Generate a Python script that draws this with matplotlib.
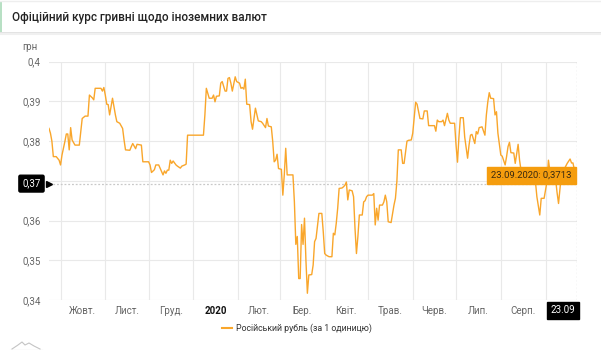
import numpy as np
import matplotlib
matplotlib.use("Agg")
import matplotlib.pyplot as plt
from matplotlib.patches import Rectangle
from matplotlib.lines import Line2D
from matplotlib.transforms import Affine2D, blended_transform_factory
import matplotlib.dates as mdates

plt.rcParams['font.family'] = ['Roboto', 'DejaVu Sans']

# --- data -------------------------------------------------------------
start_date = np.datetime64('2019-09-23')
end_date = np.datetime64('2020-09-23')

day_offsets = [
    0, 1, 2, 3, 5, 7, 8, 9, 11, 12, 13, 14, 15, 16, 18, 21, 23, 25, 27, 28,
    30, 31, 32, 36, 37, 38, 39, 40, 41, 42, 44, 46, 47, 49, 51, 52, 53, 56, 57, 58,
    60, 61, 64, 65, 69, 70, 71, 73, 74, 76, 78, 79, 80, 81, 82, 83, 84, 85, 86, 88,
    89, 91, 92, 94, 95, 96, 107, 108, 109, 111, 113, 114, 115, 116, 118, 119, 120, 122, 123, 124,
    125, 126, 127, 129, 130, 132, 133, 134, 135, 136, 137, 139, 140, 141, 143, 145, 147, 148, 150, 151,
    152, 154, 155, 156, 157, 158, 159, 161, 162, 163, 164, 165, 169, 170, 171, 172, 173, 174, 175, 176,
    177, 178, 179, 180, 182, 183, 184, 185, 187, 189, 190, 191, 192, 194, 196, 197, 198, 199, 200, 201,
    203, 204, 205, 206, 207, 208, 210, 211, 212, 213, 214, 215, 217, 218, 219, 220, 221, 224, 225, 226,
    227, 228, 229, 231, 232, 233, 234, 235, 237, 239, 240, 241, 242, 244, 245, 246, 248, 249, 251, 252,
    253, 254, 255, 257, 259, 260, 262, 263, 267, 268, 269, 270, 272, 273, 274, 276, 277, 278, 281, 282,
    283, 284, 285, 287, 288, 290, 291, 292, 293, 295, 296, 297, 298, 300, 302, 303, 304, 305, 306, 308,
    309, 310, 311, 313, 314, 316, 317, 318, 319, 320, 322, 323, 325, 326, 327, 330, 333, 335, 336, 337,
    338, 340, 341, 343, 345, 346, 347, 348, 350, 351, 352, 353, 354, 355, 357, 359, 361, 362, 363, 364,
    365, 366,
]

rub_rate = [
    0.3832, 0.3820, 0.3800, 0.3761, 0.3761, 0.3752, 0.3740, 0.3765, 0.3799, 0.3818,
    0.3818, 0.3778, 0.3834, 0.3803, 0.3790, 0.3790, 0.3857, 0.3863, 0.3863, 0.3916,
    0.3909, 0.3904, 0.3933, 0.3933, 0.3926, 0.3935, 0.3916, 0.3893, 0.3892, 0.3866,
    0.3908, 0.3866, 0.3849, 0.3845, 0.3832, 0.3803, 0.3778, 0.3777, 0.3786, 0.3794,
    0.3781, 0.3792, 0.3790, 0.3748, 0.3748, 0.3740, 0.3721, 0.3728, 0.3740, 0.3740,
    0.3723, 0.3715, 0.3725, 0.3719, 0.3727, 0.3727, 0.3752, 0.3744, 0.3750, 0.3740,
    0.3737, 0.3732, 0.3737, 0.3740, 0.3742, 0.3815, 0.3815, 0.3866, 0.3933, 0.3908,
    0.3908, 0.3916, 0.3899, 0.3913, 0.3914, 0.3946, 0.3950, 0.3926, 0.3926, 0.3958,
    0.3960, 0.3946, 0.3926, 0.3962, 0.3950, 0.3946, 0.3933, 0.3935, 0.3931, 0.3956,
    0.3893, 0.3892, 0.3849, 0.3830, 0.3883, 0.3851, 0.3849, 0.3845, 0.3834, 0.3857,
    0.3838, 0.3836, 0.3799, 0.3748, 0.3752, 0.3767, 0.3731, 0.3729, 0.3664, 0.3715,
    0.3782, 0.3715, 0.3715, 0.3647, 0.3540, 0.3560, 0.3454, 0.3454, 0.3590, 0.3540,
    0.3606, 0.3500, 0.3417, 0.3463, 0.3464, 0.3488, 0.3547, 0.3555, 0.3618, 0.3618,
    0.3572, 0.3517, 0.3513, 0.3509, 0.3509, 0.3568, 0.3564, 0.3593, 0.3631, 0.3681,
    0.3682, 0.3685, 0.3689, 0.3697, 0.3652, 0.3677, 0.3675, 0.3660, 0.3580, 0.3517,
    0.3560, 0.3614, 0.3614, 0.3647, 0.3650, 0.3660, 0.3664, 0.3664, 0.3668, 0.3589,
    0.3631, 0.3601, 0.3639, 0.3639, 0.3647, 0.3664, 0.3647, 0.3597, 0.3595, 0.3639,
    0.3656, 0.3698, 0.3778, 0.3778, 0.3744, 0.3744, 0.3800, 0.3802, 0.3803, 0.3820,
    0.3860, 0.3898, 0.3893, 0.3857, 0.3856, 0.3876, 0.3876, 0.3839, 0.3839, 0.3825,
    0.3853, 0.3849, 0.3849, 0.3853, 0.3839, 0.3870, 0.3853, 0.3845, 0.3845, 0.3790,
    0.3747, 0.3810, 0.3859, 0.3859, 0.3810, 0.3757, 0.3790, 0.3815, 0.3817, 0.3794,
    0.3824, 0.3818, 0.3834, 0.3836, 0.3815, 0.3866, 0.3899, 0.3922, 0.3908, 0.3907,
    0.3866, 0.3874, 0.3820, 0.3765, 0.3762, 0.3740, 0.3761, 0.3786, 0.3797, 0.3771,
    0.3770, 0.3744, 0.3792, 0.3752, 0.3727, 0.3720, 0.3712, 0.3705, 0.3698, 0.3698,
    0.3660, 0.3614, 0.3656, 0.3656, 0.3698, 0.3752, 0.3725, 0.3698, 0.3696, 0.3703,
    0.3670, 0.3643, 0.3680, 0.3717, 0.3730, 0.3744, 0.3755, 0.3745, 0.3745, 0.3727,
    0.3694, 0.3713,
]

month_labels = ['Жовт.', 'Лист.', 'Груд.', '2020', 'Лют.', 'Бер.', 'Квіт.',
                'Трав.', 'Черв.', 'Лип.', 'Серп.']
y_ticks = [0.34, 0.35, 0.36, 0.37, 0.38, 0.39, 0.40]
series_name = 'Російський рубль (за 1 одиницю)'
unit_label = 'грн'
title = 'Офіційний курс гривні щодо іноземних валют'
cursor_value = 0.3693

# --- styling ----------------------------------------------------------
W, H = 601, 350
LINE = '#f9a62b'
TIP = '#f59d0e'
GRID = '#e9e9e9'
TICK = '#666666'

dates = start_date + np.array(day_offsets).astype('timedelta64[D]')

fig = plt.figure(figsize=(W / 100, H / 100), dpi=100)
fig.patch.set_facecolor('white')

# pixel coordinates measured from the top-left corner
px = Affine2D().scale(1, -1).translate(0, H)

left, right, top, bottom = 49, 577.3, 61.7, 300
ax = fig.add_axes([left / W, 1 - bottom / H, (right - left) / W, (bottom - top) / H])
ax.set_facecolor('white')
for s in ax.spines.values():
    s.set_visible(False)

ax.plot(dates, rub_rate, color=LINE, lw=1.0, zorder=3, solid_joinstyle='round')
ax.set_xlim(start_date, end_date)
ax.set_ylim(0.34, 0.40)

# horizontal grid + y labels
ax.set_yticks(y_ticks)
ax.set_yticklabels([('' if abs(v - round(cursor_value, 2)) < 1e-9 else
                     f'{v:.2f}'.rstrip('0').replace('.', ',')) for v in y_ticks])
ax.tick_params(axis='y', length=0, pad=6, labelsize=7, labelcolor=TICK)
for v in y_ticks:
    ax.axhline(v, color=GRID, lw=0.8, zorder=1)

# vertical grid at month starts, labels centred in each month
month_starts = np.arange(np.datetime64('2019-10'), np.datetime64('2020-10'),
                         dtype='datetime64[M]')
ax.set_xticks([])
for m in month_starts:
    ax.axvline(m.astype('datetime64[D]'), color=GRID, lw=0.8, zorder=1)
xlab = blended_transform_factory(ax.transData, ax.transAxes)
for m, lab in zip(month_starts[:len(month_labels)], month_labels):
    d0 = m.astype('datetime64[D]')
    d1 = (m + 1).astype('datetime64[D]')
    mid = mdates.date2num(d0) + (mdates.date2num(d1) - mdates.date2num(d0)) / 2
    ax.text(mid, -0.045, lab, transform=xlab, ha='center', va='center',
            fontsize=7, color='#111111' if lab == '2020' else TICK,
            fontweight='bold' if lab == '2020' else 'normal')

# crosshair
ax.axhline(cursor_value, color='#c8c8c8', lw=0.9, ls=(0, (1.5, 1.5)), zorder=2)
ax.axvline(end_date, color='#c8c8c8', lw=0.9, ls=(0, (1.5, 1.5)), zorder=2)

ylab = blended_transform_factory(ax.transAxes, ax.transData)
ax.annotate(f'{cursor_value:.2f}'.replace('.', ','), xy=(0, cursor_value), xycoords=ylab,
            xytext=(-6, 0), textcoords='offset points', ha='right', va='center',
            fontsize=7, color='white', annotation_clip=False, zorder=10,
            bbox=dict(boxstyle='round,pad=0.35,rounding_size=0.15', fc='black', ec='black'))
ax.plot([0], [cursor_value], marker='>', ms=4, color='black', transform=ylab,
        clip_on=False, zorder=10)

last_day = dates[-1]
ax.annotate(str(last_day.astype(object).strftime('%d.%m')), xy=(last_day, 0),
            xycoords=xlab, xytext=(-1.5, -7.5), textcoords='offset points',
            ha='right', va='center', fontsize=7, color='white',
            annotation_clip=False, zorder=10,
            bbox=dict(boxstyle='square,pad=0.35', fc='black', ec='black'))

# tooltip for the last value
tip_text = last_day.astype(object).strftime('%d.%m.%Y') + ': ' + \
    f'{rub_rate[-1]:.4f}'.replace('.', ',')
ax.annotate(tip_text, xy=(last_day, rub_rate[-1]), xytext=(-4, 0),
            textcoords='offset points', ha='right', va='center', fontsize=6.8,
            color='#3a2a10', annotation_clip=False, zorder=12,
            bbox=dict(boxstyle='square,pad=0.4', fc=TIP, ec=TIP))

# header
fig.add_artist(Rectangle((0, 0), W, 32, transform=px, fc='white', ec='none', zorder=0))
fig.add_artist(Line2D([0, W], [32.5, 32.5], transform=px, color='#dedede', lw=1.2))
fig.add_artist(Line2D([0, W], [34, 34], transform=px, color='#f0f0f0', lw=1.5))
fig.add_artist(Line2D([0, W], [0.5, 0.5], transform=px, color='#eeeeee', lw=1))
fig.add_artist(Rectangle((0, 2), 2, 30, transform=px, fc='#b8e0c4', ec='none'))
fig.text(12 / W, 1 - 17 / H, title, fontsize=8.5, fontweight='medium', color='#222222',
         ha='left', va='center')

fig.text(22 / W, 1 - 47 / H, unit_label, fontsize=7, color=TICK, ha='left', va='center')

# legend
fig.add_artist(Line2D([222, 232], [328, 328], transform=px, color=LINE, lw=1.5))
fig.text(236 / W, 1 - 328 / H, series_name, fontsize=6.3, color='#333333',
         ha='left', va='center')

# small mark in the lower-left corner
fig.add_artist(Line2D([12, 18, 22, 25, 29, 34, 40], [349, 345, 342, 345, 343, 346, 349],
                      transform=px, color='#c4c4c4', lw=0.8))
fig.add_artist(Line2D([10, 42], [349.5, 349.5], transform=px, color='#c4c4c4', lw=0.8))

fig.savefig('out.png', dpi=100, facecolor='white')
